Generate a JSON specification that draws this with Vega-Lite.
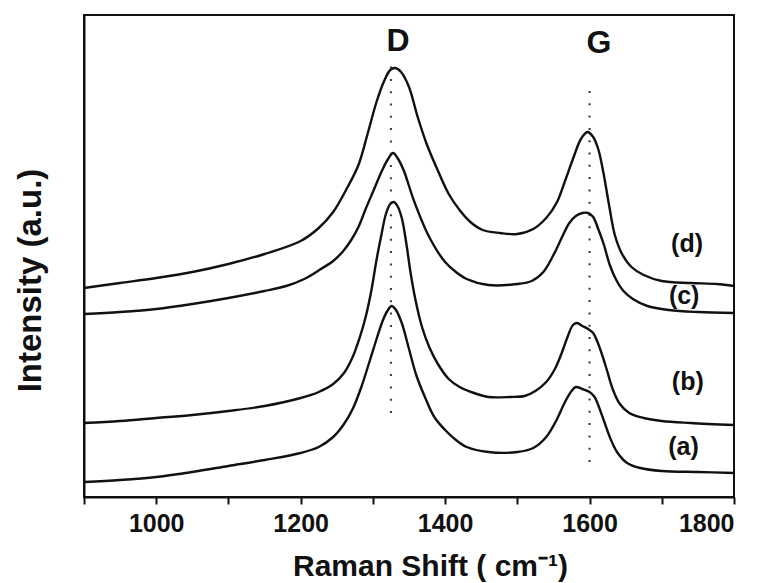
{
  "$schema": "https://vega.github.io/schema/vega-lite/v6.json",
  "width": 650,
  "height": 482,
  "autosize": {"type": "none"},
  "padding": {"left": 84, "top": 15, "right": 31, "bottom": 86},
  "background": "white",
  "config": {
    "view": {"stroke": "#111", "strokeWidth": 2},
    "font": "Liberation Sans"
  },
  "datasets": {
    "spectra": [
      {"s": "d", "x": 900, "y": 209}, {"s": "d", "x": 950, "y": 214}, {"s": "d", "x": 1000, "y": 219}, {"s": "d", "x": 1050, "y": 225},
      {"s": "d", "x": 1100, "y": 233}, {"s": "d", "x": 1150, "y": 243}, {"s": "d", "x": 1200, "y": 256}, {"s": "d", "x": 1225, "y": 269},
      {"s": "d", "x": 1245, "y": 285}, {"s": "d", "x": 1265, "y": 310}, {"s": "d", "x": 1280, "y": 332}, {"s": "d", "x": 1293, "y": 364},
      {"s": "d", "x": 1305, "y": 395}, {"s": "d", "x": 1315, "y": 415}, {"s": "d", "x": 1324, "y": 427}, {"s": "d", "x": 1331, "y": 429},
      {"s": "d", "x": 1339, "y": 425}, {"s": "d", "x": 1350, "y": 410}, {"s": "d", "x": 1362, "y": 380}, {"s": "d", "x": 1375, "y": 352},
      {"s": "d", "x": 1389, "y": 328}, {"s": "d", "x": 1405, "y": 303}, {"s": "d", "x": 1420, "y": 287}, {"s": "d", "x": 1435, "y": 275},
      {"s": "d", "x": 1452, "y": 267}, {"s": "d", "x": 1476, "y": 264}, {"s": "d", "x": 1500, "y": 263}, {"s": "d", "x": 1522, "y": 268},
      {"s": "d", "x": 1540, "y": 279}, {"s": "d", "x": 1555, "y": 295}, {"s": "d", "x": 1567, "y": 318}, {"s": "d", "x": 1578, "y": 340},
      {"s": "d", "x": 1588, "y": 358}, {"s": "d", "x": 1597, "y": 365}, {"s": "d", "x": 1605, "y": 360}, {"s": "d", "x": 1612, "y": 348},
      {"s": "d", "x": 1619, "y": 325}, {"s": "d", "x": 1627, "y": 292}, {"s": "d", "x": 1635, "y": 262}, {"s": "d", "x": 1645, "y": 243},
      {"s": "d", "x": 1658, "y": 230}, {"s": "d", "x": 1675, "y": 222}, {"s": "d", "x": 1700, "y": 216}, {"s": "d", "x": 1740, "y": 214},
      {"s": "d", "x": 1776, "y": 213}, {"s": "d", "x": 1800, "y": 211},

      {"s": "c", "x": 900, "y": 183}, {"s": "c", "x": 950, "y": 185}, {"s": "c", "x": 1000, "y": 188}, {"s": "c", "x": 1050, "y": 193},
      {"s": "c", "x": 1100, "y": 199}, {"s": "c", "x": 1150, "y": 206}, {"s": "c", "x": 1180, "y": 211}, {"s": "c", "x": 1205, "y": 218},
      {"s": "c", "x": 1228, "y": 228}, {"s": "c", "x": 1245, "y": 236}, {"s": "c", "x": 1259, "y": 246}, {"s": "c", "x": 1270, "y": 257},
      {"s": "c", "x": 1280, "y": 270}, {"s": "c", "x": 1290, "y": 288}, {"s": "c", "x": 1300, "y": 305}, {"s": "c", "x": 1313, "y": 327},
      {"s": "c", "x": 1321, "y": 338}, {"s": "c", "x": 1328, "y": 344}, {"s": "c", "x": 1335, "y": 338}, {"s": "c", "x": 1343, "y": 326},
      {"s": "c", "x": 1357, "y": 296}, {"s": "c", "x": 1378, "y": 260}, {"s": "c", "x": 1400, "y": 235}, {"s": "c", "x": 1415, "y": 225},
      {"s": "c", "x": 1430, "y": 218}, {"s": "c", "x": 1460, "y": 212}, {"s": "c", "x": 1500, "y": 213}, {"s": "c", "x": 1520, "y": 216},
      {"s": "c", "x": 1536, "y": 225}, {"s": "c", "x": 1550, "y": 242}, {"s": "c", "x": 1562, "y": 260}, {"s": "c", "x": 1572, "y": 274},
      {"s": "c", "x": 1581, "y": 281}, {"s": "c", "x": 1590, "y": 284}, {"s": "c", "x": 1598, "y": 284}, {"s": "c", "x": 1605, "y": 280},
      {"s": "c", "x": 1612, "y": 268}, {"s": "c", "x": 1620, "y": 252}, {"s": "c", "x": 1628, "y": 232}, {"s": "c", "x": 1637, "y": 217},
      {"s": "c", "x": 1647, "y": 206}, {"s": "c", "x": 1660, "y": 198}, {"s": "c", "x": 1680, "y": 191}, {"s": "c", "x": 1710, "y": 187},
      {"s": "c", "x": 1750, "y": 185}, {"s": "c", "x": 1800, "y": 184},

      {"s": "b", "x": 900, "y": 74}, {"s": "b", "x": 950, "y": 76}, {"s": "b", "x": 1000, "y": 79}, {"s": "b", "x": 1050, "y": 82},
      {"s": "b", "x": 1100, "y": 86}, {"s": "b", "x": 1150, "y": 91}, {"s": "b", "x": 1200, "y": 99}, {"s": "b", "x": 1225, "y": 105},
      {"s": "b", "x": 1245, "y": 113}, {"s": "b", "x": 1260, "y": 124}, {"s": "b", "x": 1272, "y": 140}, {"s": "b", "x": 1282, "y": 160},
      {"s": "b", "x": 1290, "y": 180}, {"s": "b", "x": 1298, "y": 207}, {"s": "b", "x": 1305, "y": 237}, {"s": "b", "x": 1312, "y": 263},
      {"s": "b", "x": 1318, "y": 283}, {"s": "b", "x": 1324, "y": 293}, {"s": "b", "x": 1329, "y": 295}, {"s": "b", "x": 1334, "y": 291},
      {"s": "b", "x": 1340, "y": 279}, {"s": "b", "x": 1346, "y": 255}, {"s": "b", "x": 1352, "y": 225}, {"s": "b", "x": 1359, "y": 197},
      {"s": "b", "x": 1368, "y": 170}, {"s": "b", "x": 1378, "y": 150}, {"s": "b", "x": 1390, "y": 133}, {"s": "b", "x": 1405, "y": 118},
      {"s": "b", "x": 1420, "y": 110}, {"s": "b", "x": 1440, "y": 104}, {"s": "b", "x": 1460, "y": 100}, {"s": "b", "x": 1490, "y": 100},
      {"s": "b", "x": 1510, "y": 101}, {"s": "b", "x": 1525, "y": 106}, {"s": "b", "x": 1540, "y": 115}, {"s": "b", "x": 1552, "y": 128},
      {"s": "b", "x": 1562, "y": 145}, {"s": "b", "x": 1570, "y": 161}, {"s": "b", "x": 1577, "y": 172}, {"s": "b", "x": 1583, "y": 174},
      {"s": "b", "x": 1590, "y": 171}, {"s": "b", "x": 1598, "y": 168}, {"s": "b", "x": 1605, "y": 164}, {"s": "b", "x": 1611, "y": 155},
      {"s": "b", "x": 1617, "y": 143}, {"s": "b", "x": 1624, "y": 127}, {"s": "b", "x": 1632, "y": 108}, {"s": "b", "x": 1642, "y": 93},
      {"s": "b", "x": 1655, "y": 84}, {"s": "b", "x": 1675, "y": 79}, {"s": "b", "x": 1700, "y": 76}, {"s": "b", "x": 1740, "y": 74},
      {"s": "b", "x": 1800, "y": 72},

      {"s": "a", "x": 900, "y": 15}, {"s": "a", "x": 950, "y": 17}, {"s": "a", "x": 1000, "y": 20}, {"s": "a", "x": 1050, "y": 25},
      {"s": "a", "x": 1100, "y": 31}, {"s": "a", "x": 1150, "y": 37}, {"s": "a", "x": 1200, "y": 44}, {"s": "a", "x": 1225, "y": 50},
      {"s": "a", "x": 1245, "y": 60}, {"s": "a", "x": 1260, "y": 73}, {"s": "a", "x": 1272, "y": 88}, {"s": "a", "x": 1284, "y": 110},
      {"s": "a", "x": 1296, "y": 137}, {"s": "a", "x": 1306, "y": 160}, {"s": "a", "x": 1314, "y": 177}, {"s": "a", "x": 1320, "y": 186},
      {"s": "a", "x": 1326, "y": 191}, {"s": "a", "x": 1332, "y": 187}, {"s": "a", "x": 1340, "y": 174}, {"s": "a", "x": 1350, "y": 148},
      {"s": "a", "x": 1360, "y": 122}, {"s": "a", "x": 1372, "y": 100}, {"s": "a", "x": 1385, "y": 80}, {"s": "a", "x": 1400, "y": 67},
      {"s": "a", "x": 1415, "y": 57}, {"s": "a", "x": 1430, "y": 50}, {"s": "a", "x": 1460, "y": 45}, {"s": "a", "x": 1500, "y": 45},
      {"s": "a", "x": 1522, "y": 49}, {"s": "a", "x": 1540, "y": 60}, {"s": "a", "x": 1555, "y": 78}, {"s": "a", "x": 1566, "y": 95},
      {"s": "a", "x": 1575, "y": 106}, {"s": "a", "x": 1581, "y": 110}, {"s": "a", "x": 1590, "y": 108}, {"s": "a", "x": 1600, "y": 105},
      {"s": "a", "x": 1607, "y": 100}, {"s": "a", "x": 1613, "y": 90}, {"s": "a", "x": 1620, "y": 76}, {"s": "a", "x": 1628, "y": 60},
      {"s": "a", "x": 1638, "y": 45}, {"s": "a", "x": 1652, "y": 34}, {"s": "a", "x": 1670, "y": 29}, {"s": "a", "x": 1700, "y": 26},
      {"s": "a", "x": 1750, "y": 25}, {"s": "a", "x": 1800, "y": 24}
    ],
    "peaks": [
      {"band": "D", "x": 1325, "y1": 84, "y2": 432},
      {"band": "G", "x": 1600, "y1": 35, "y2": 409}
    ],
    "bandLabels": [
      {"label": "D", "x": 1335, "y": 456},
      {"label": "G", "x": 1613, "y": 454}
    ],
    "curveLabels": [
      {"label": "(d)", "x": 1735, "y": 253},
      {"label": "(c)", "x": 1731, "y": 201},
      {"label": "(b)", "x": 1736, "y": 115},
      {"label": "(a)", "x": 1730, "y": 50}
    ]
  },
  "encoding": {
    "x": {
      "field": "x", "type": "quantitative",
      "scale": {"domain": [900, 1800], "nice": false, "zero": false},
      "axis": {
        "values": [900, 1000, 1100, 1200, 1300, 1400, 1500, 1600, 1700, 1800],
        "labelExpr": "datum.value % 200 == 0 ? format(datum.value, 'd') : ''",
        "grid": false,
        "domainColor": "#111", "domainWidth": 2,
        "tickColor": "#111", "tickWidth": 2, "tickSize": 7,
        "labelFont": "Liberation Sans", "labelFontSize": 25, "labelFontWeight": "bold", "labelColor": "#111", "labelPadding": 7,
        "title": "Raman Shift ( cm⁻¹)",
        "titleFont": "Liberation Sans", "titleFontSize": 30, "titleFontWeight": "bold", "titleColor": "#111",
        "titleX": 346, "titleY": 78, "titleAlign": "center", "titleBaseline": "alphabetic"
      }
    },
    "y": {
      "field": "y", "type": "quantitative",
      "scale": {"domain": [0, 482], "nice": false, "zero": false},
      "axis": {
        "labels": false, "ticks": false, "grid": false,
        "domainColor": "#111", "domainWidth": 2,
        "title": "Intensity (a.u.)",
        "titleFont": "Liberation Sans", "titleFontSize": 33, "titleFontWeight": "bold", "titleColor": "#111",
        "titleX": -44, "titleY": 265, "titleAngle": -90, "titleAlign": "center", "titleBaseline": "alphabetic"
      }
    }
  },
  "layer": [
    {
      "data": {"name": "peaks"},
      "mark": {"type": "rule", "color": "#444", "strokeWidth": 2.2, "strokeDash": [2, 10.3]},
      "encoding": {"y": {"field": "y1", "type": "quantitative"}, "y2": {"field": "y2"}}
    },
    {
      "data": {"name": "spectra"},
      "mark": {"type": "line", "color": "#111", "strokeWidth": 2.4, "interpolate": "catmull-rom"},
      "encoding": {"detail": {"field": "s", "type": "nominal"}}
    },
    {
      "data": {"name": "bandLabels"},
      "mark": {"type": "text", "font": "Liberation Sans", "fontSize": 32, "fontWeight": "bold", "color": "#111", "baseline": "middle", "align": "center"},
      "encoding": {"text": {"field": "label"}}
    },
    {
      "data": {"name": "curveLabels"},
      "mark": {"type": "text", "font": "Liberation Sans", "fontSize": 25, "fontWeight": "bold", "color": "#111", "baseline": "middle", "align": "center"},
      "encoding": {"text": {"field": "label"}}
    }
  ]
}
